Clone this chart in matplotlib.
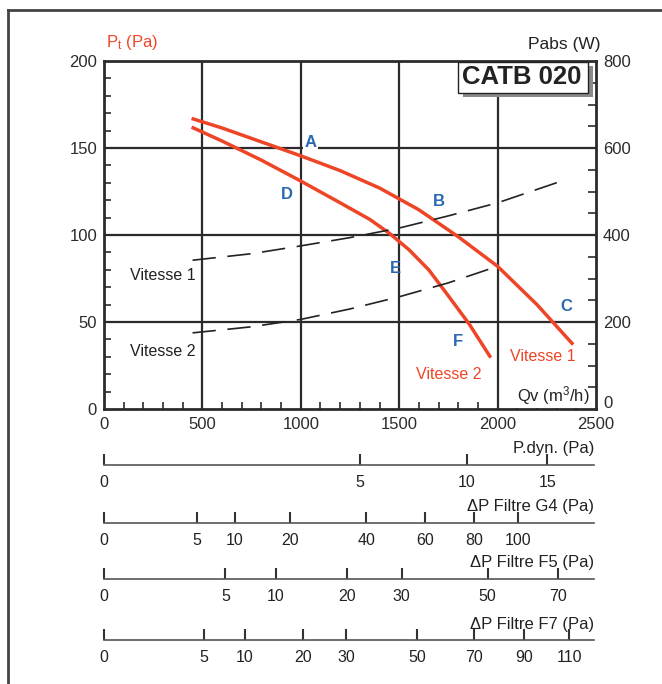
import matplotlib
matplotlib.use("Agg")
import matplotlib.pyplot as plt
from matplotlib.patches import Rectangle
from matplotlib.lines import Line2D
from matplotlib.ticker import MultipleLocator

plt.rcParams['font.family'] = ['Liberation Sans', 'DejaVu Sans']
plt.rcParams['mathtext.fontset'] = 'custom'
plt.rcParams['mathtext.rm'] = 'Liberation Sans'
plt.rcParams['mathtext.default'] = 'regular'

# courbes pression totale (Pa) en fonction du débit (m3/h)
qv_v1 = [445, 600, 800, 1000, 1200, 1400, 1600, 1800, 2000, 2200, 2384]
pt_v1 = [167, 161.5, 153.5, 145.5, 137, 127, 114.5, 99, 82, 60, 37]
qv_v2 = [445, 600, 800, 1000, 1200, 1350, 1450, 1550, 1650, 1750, 1857, 1965]
pt_v2 = [162, 154, 143, 131, 118.5, 109, 101, 91.5, 80, 65, 48.6, 29.5]

# puissance absorbée (W)
qv_p1 = [450, 750, 1000, 1250, 1500, 1750, 2000, 2312]
pabs_p1 = [342, 357, 375, 394, 416, 444, 474, 522]
qv_p2 = [450, 750, 1000, 1250, 1500, 1750, 1960]
pabs_p2 = [175, 189, 206, 230, 258, 290, 322]

# points de fonctionnement
pt_labels = ['A', 'B', 'C', 'D', 'E', 'F']
pt_qv = [1050, 1700, 2350, 930, 1480, 1800]
pt_pa = [153, 119, 59, 123, 81, 39]

# échelles complémentaires (position en débit, libellé)
pdyn_pos = [0, 1301, 1845, 2253]
pdyn_lab = ['0', '5', '10', '15']
g4_pos = [0, 474, 665, 943, 1333, 1631, 1882, 2105]
g4_lab = ['0', '5', '10', '20', '40', '60', '80', '100']
f5_pos = [0, 617, 873, 1234, 1513, 1949, 2308]
f5_lab = ['0', '5', '10', '20', '30', '50', '70']
f7_pos = [0, 506, 714, 1010, 1232, 1590, 1882, 2136, 2363]
f7_lab = ['0', '5', '10', '20', '30', '50', '70', '90', '110']

RED = '#ef4527'
BLUE = '#2a68b1'
DARK = '#2b2b2b'
FS = 12

W, H = 662, 684
fig = plt.figure(figsize=(W / 100, H / 100), dpi=100)


def fx(px):
    return px / W


def fy(py):
    return 1 - py / H


# cadre (haut + gauche)
fig.add_artist(Line2D([fx(8), 1.0], [fy(10), fy(10)], color='#444444', lw=2))
fig.add_artist(Line2D([fx(8), fx(8)], [fy(10), 0.0], color='#444444', lw=2))

ax = fig.add_axes([fx(104), fy(409), fx(596) - fx(104), fy(61) - fy(409)])
ax.set_xlim(0, 2500)
ax.set_ylim(0, 200)
ax.set_xticks([0, 500, 1000, 1500, 2000, 2500])
ax.set_yticks([0, 50, 100, 150, 200])
ax.xaxis.set_minor_locator(MultipleLocator(100))
ax.yaxis.set_minor_locator(MultipleLocator(10))
ax.tick_params(which='major', length=0, labelsize=FS, colors=DARK)
ax.tick_params(axis='x', which='major', pad=6)
ax.tick_params(axis='y', which='major', pad=5)
ax.tick_params(which='minor', direction='in', length=5, width=1.2, color=DARK)
for s in ax.spines.values():
    s.set_linewidth(2)
    s.set_color(DARK)
for v in [500, 1000, 1500, 2000]:
    ax.axvline(v, color=DARK, lw=1.6, zorder=1)
for v in [50, 100, 150]:
    ax.axhline(v, color=DARK, lw=1.6, zorder=1)

ax2 = ax.twinx()
ax2.set_ylim(0, 800)
ax2.set_yticks([0, 200, 400, 600, 800])
ax2.set_yticklabels(['', '200', '400', '600', '800'])
ax2.yaxis.set_minor_locator(MultipleLocator(50))
ax2.tick_params(which='major', length=0, labelsize=FS, colors=DARK, pad=5)
ax2.tick_params(which='minor', direction='in', length=6, width=1.2, color=DARK)
for s in ax2.spines.values():
    s.set_visible(False)
ax2.annotate('0', xy=(1, 0), xycoords='axes fraction', xytext=(5, 4),
             textcoords='offset points', fontsize=FS, color=DARK,
             ha='left', va='center')

ax2.plot(qv_p1, pabs_p1, color='#222222', lw=1.2, dashes=(14, 7), zorder=2)
ax2.plot(qv_p2, pabs_p2, color='#222222', lw=1.2, dashes=(14, 7), zorder=2)

ax.plot(qv_v1, pt_v1, color=RED, lw=2.5, zorder=3, solid_capstyle='butt')
ax.plot(qv_v2, pt_v2, color=RED, lw=2.5, zorder=3, solid_capstyle='butt')

for lab, x, y in zip(pt_labels, pt_qv, pt_pa):
    t = ax.text(x, y, lab, color=BLUE, fontsize=12, fontweight='bold',
                ha='center', va='center', zorder=4)
    if lab == 'A':
        t.set_bbox(dict(facecolor='white', edgecolor='none', pad=1))

ax.text(300, 77, 'Vitesse 1', fontsize=11.5, color='#222222', ha='center', va='center')
ax.text(300, 33, 'Vitesse 2', fontsize=11.5, color='#222222', ha='center', va='center')
ax.text(2230, 30, 'Vitesse 1', fontsize=11.5, color=RED, ha='center', va='center')
ax.text(1750, 20, 'Vitesse 2', fontsize=11.5, color=RED, ha='center', va='center')
ax.text(2470, 8, 'Qv (m$^3$/h)', fontsize=12, color='#222222', ha='right', va='center',
        bbox=dict(facecolor='white', edgecolor='none', pad=1), zorder=4)

fig.text(fx(106), fy(42), 'P$_t$ (Pa)', color=RED, fontsize=12, ha='left', va='center')
fig.text(fx(600), fy(44), 'Pabs (W)', color='#222222', fontsize=12.5, ha='right', va='center')

# cartouche CATB 020
fig.add_artist(Rectangle((fx(463), fy(97)), fx(593) - fx(463), fy(66) - fy(97),
                         facecolor='#8a8a8a', edgecolor='none', zorder=5))
fig.add_artist(Rectangle((fx(458), fy(93)), fx(588) - fx(458), fy(62) - fy(93),
                         facecolor='white', edgecolor='#222222', lw=1, zorder=6))
fig.text(fx(522), fy(77.5), 'CATB 020', fontsize=18.5, fontweight='bold', color='#222222',
         ha='center', va='center', zorder=7)

# échelles du bas
scales = [
    ('P.dyn. (Pa)', pdyn_pos, pdyn_lab, 465),
    ('ΔP Filtre G4 (Pa)', g4_pos, g4_lab, 523),
    ('ΔP Filtre F5 (Pa)', f5_pos, f5_lab, 579),
    ('ΔP Filtre F7 (Pa)', f7_pos, f7_lab, 640),
]
for title, pos, lab, yline in scales:
    sa = fig.add_axes([fx(104), fy(yline), fx(594) - fx(104), 0.01])
    sa.set_xlim(0, 2490)
    sa.set_ylim(0, 1)
    sa.patch.set_alpha(0)
    for k in ['top', 'left', 'right']:
        sa.spines[k].set_visible(False)
    sa.spines['bottom'].set_color('#555555')
    sa.spines['bottom'].set_linewidth(1.2)
    sa.set_yticks([])
    sa.set_xticks(pos)
    sa.set_xticklabels(lab)
    sa.tick_params(axis='x', direction='in', length=8, width=1.5, color='#333333',
                   labelsize=11.5, labelcolor='#222222', pad=7)
    fig.text(fx(594), fy(yline - 16), title, fontsize=12, color='#222222',
             ha='right', va='center')

fig.savefig('out.png', dpi=100)
